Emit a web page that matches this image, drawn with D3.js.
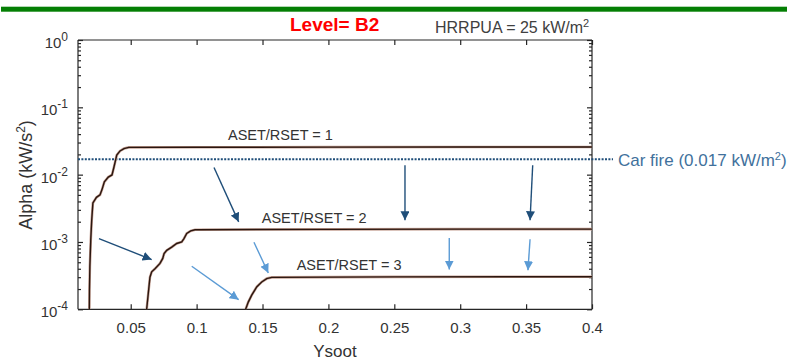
<!DOCTYPE html>
<html>
<head>
<script src="https://cdnjs.cloudflare.com/ajax/libs/d3/7.8.5/d3.min.js"></script>
<style>
  html, body { margin: 0; background: #fff; }
  svg { display: block; font-family: "Liberation Sans", Arial, sans-serif; }
  .axis path, .axis line { stroke: #262626; stroke-width: 1.2; }
  .axis text { fill: #333; font-size: 15px; font-family: "Liberation Sans", Arial, sans-serif; }
</style>
</head>
<body>
<svg id="chart" width="787" height="360"></svg>
<script>
// curves: ASET/RSET = 1, 2, 3
var ysoot1 = [0.0186, 0.0187, 0.0190, 0.0197, 0.0204, 0.0213, 0.0240, 0.0267, 0.0282, 0.0300, 0.0330, 0.0358, 0.0373, 0.0394, 0.0419, 0.0449, 0.0485, 0.10, 0.20, 0.30, 0.40];
var alpha1 = [1.0e-4, 1.9e-4, 4.3e-4, 1.1e-3, 2.1e-3, 3.8e-3, 4.6e-3, 5.0e-3, 6.0e-3, 7.8e-3, 9.2e-3, 9.9e-3, 1.3e-2, 1.95e-2, 2.25e-2, 2.44e-2, 2.54e-2, 2.55e-2, 2.56e-2, 2.57e-2, 2.58e-2];

var ysoot2 = [0.0621, 0.0633, 0.0646, 0.0659, 0.0684, 0.0722, 0.0743, 0.0753, 0.0773, 0.0811, 0.0849, 0.0887, 0.0904, 0.0925, 0.0955, 0.0988, 0.20, 0.30, 0.40];
var alpha2 = [1.0e-4, 1.7e-4, 3.0e-4, 3.6e-4, 4.0e-4, 4.8e-4, 5.7e-4, 6.7e-4, 7.5e-4, 8.4e-4, 9.5e-4, 1.0e-3, 1.12e-3, 1.34e-3, 1.46e-3, 1.52e-3, 1.54e-3, 1.55e-3, 1.55e-3];

var ysoot3 = [0.1372, 0.1392, 0.1418, 0.1456, 0.1494, 0.1532, 0.1570, 0.25, 0.40];
var alpha3 = [1.0e-4, 1.28e-4, 1.62e-4, 2.15e-4, 2.55e-4, 2.86e-4, 2.98e-4, 3.03e-4, 3.05e-4];

var curveLabels = ["ASET/RSET = 1", "ASET/RSET = 2", "ASET/RSET = 3"];
var labelX = [0.1238, 0.1494, 0.1759];

var carFire = 0.017;
var xTicks = [0.05, 0.1, 0.15, 0.2, 0.25, 0.3, 0.35, 0.4];
var xTickLabels = ["0.05", "0.1", "0.15", "0.2", "0.25", "0.3", "0.35", "0.4"];
var yExps = [-4, -3, -2, -1, 0];

// arrows [x0, y0, x1, y1] in data units
var darkArrows = [
  [0.1132, 0.0128, 0.1319, 1.99e-3],
  [0.0259, 1.12e-3, 0.0659, 5.48e-4],
  [0.2581, 0.0138, 0.2581, 2.1e-3],
  [0.3550, 0.0138, 0.3530, 2.1e-3]
];
var lightArrows = [
  [0.0963, 4.36e-4, 0.1319, 1.39e-4],
  [0.1435, 9.9e-4, 0.1544, 3.47e-4],
  [0.2917, 1.15e-3, 0.2917, 3.89e-4],
  [0.3530, 1.10e-3, 0.3514, 3.8e-4]
];

var svg = d3.select("#chart");
var pLeft = 78, pRight = 592, pTop = 40, pBottom = 309.3;

var x = d3.scaleLinear().domain([0.01, 0.4]).range([pLeft, pRight]);
var y = d3.scaleLog().domain([1e-4, 1]).range([pBottom, pTop]);

// green banner line
svg.append("rect").attr("x", 1).attr("y", 6.7).attr("width", 786).attr("height", 5).attr("fill", "#047f04");

// title texts
svg.append("text").attr("x", 290).attr("y", 31)
  .attr("font-size", 19).attr("font-weight", "bold").attr("fill", "#ff0000")
  .text("Level= B2");
var hr = svg.append("text").attr("x", 435).attr("y", 33).attr("font-size", 16).attr("fill", "#404040");
hr.append("tspan").text("HRRPUA = 25 kW/m");
hr.append("tspan").attr("dy", -6).attr("font-size", 11).text("2");

var defs = svg.append("defs");
defs.append("clipPath").attr("id", "plotclip").append("rect")
  .attr("x", pLeft).attr("y", pTop).attr("width", pRight - pLeft).attr("height", pBottom - pTop);

function marker(id, color) {
  defs.append("marker").attr("id", id)
    .attr("viewBox", "0 0 10 10").attr("refX", 10).attr("refY", 5)
    .attr("markerUnits", "userSpaceOnUse").attr("markerWidth", 9).attr("markerHeight", 9)
    .attr("orient", "auto")
    .append("path").attr("d", "M0,0 L10,5 L0,10 z").attr("fill", color);
}
marker("darkhead", "#1f4e79");
marker("lighthead", "#5b9bd5");

// axes
var minorVals = [];
for (var e = -4; e < 0; e++) {
  for (var m = 2; m <= 9; m++) minorVals.push(m * Math.pow(10, e));
}
var majorVals = yExps.map(function(k) { return Math.pow(10, k); });

svg.append("g").attr("class", "axis").attr("transform", "translate(0," + pBottom + ")")
  .call(d3.axisBottom(x).tickValues(xTicks).tickSize(-5).tickPadding(13)
    .tickFormat(function(d, i) { return xTickLabels[i]; }))
  .call(function(g) { g.select(".domain").attr("d", "M" + pLeft + ",0H" + pRight); });

svg.append("g").attr("class", "axis").attr("transform", "translate(0," + pTop + ")")
  .call(d3.axisTop(x).tickValues(xTicks).tickSize(-5).tickFormat(""))
  .call(function(g) { g.select(".domain").attr("d", "M" + pLeft + ",0H" + pRight); });

svg.append("g").attr("class", "axis").attr("transform", "translate(" + pLeft + ",0)")
  .call(d3.axisLeft(y).tickValues(majorVals).tickSize(-5).tickFormat(""))
  .call(function(g) { g.select(".domain").attr("d", "M0," + pTop + "V" + pBottom); });
svg.append("g").attr("class", "axis").attr("transform", "translate(" + pLeft + ",0)")
  .call(d3.axisLeft(y).tickValues(minorVals).tickSize(-3).tickFormat(""))
  .call(function(g) { g.select(".domain").remove(); });

svg.append("g").attr("class", "axis").attr("transform", "translate(" + pRight + ",0)")
  .call(d3.axisRight(y).tickValues(majorVals).tickSize(-5).tickFormat(""))
  .call(function(g) { g.select(".domain").attr("d", "M0," + pTop + "V" + pBottom); });
svg.append("g").attr("class", "axis").attr("transform", "translate(" + pRight + ",0)")
  .call(d3.axisRight(y).tickValues(minorVals).tickSize(-3).tickFormat(""))
  .call(function(g) { g.select(".domain").remove(); });

// y tick labels 10^k
var yl = svg.append("g").selectAll("text").data(yExps).enter().append("text")
  .attr("x", 68).attr("y", function(d) { return y(Math.pow(10, d)) + 8; })
  .attr("text-anchor", "end").attr("font-size", 15).attr("fill", "#333");
yl.append("tspan").text("10");
yl.append("tspan").attr("dy", -7).attr("font-size", 12).text(function(d) { return d === 0 ? "0" : "-" + (-d); });

// axis titles
svg.append("text").attr("x", 335).attr("y", 357).attr("text-anchor", "middle")
  .attr("font-size", 17).attr("fill", "#333").text("Ysoot");
var ya = svg.append("text").attr("transform", "translate(32,175) rotate(-90)")
  .attr("text-anchor", "middle").attr("font-size", 18).attr("fill", "#333");
ya.append("tspan").text("Alpha (kW/s");
ya.append("tspan").attr("dy", -7).attr("font-size", 12).text("2");
ya.append("tspan").attr("dy", 7).text(")");

// car fire reference line
svg.append("line")
  .attr("x1", pLeft).attr("x2", 613)
  .attr("y1", y(carFire)).attr("y2", y(carFire))
  .attr("stroke", "#1f4e79").attr("stroke-width", 2).attr("stroke-dasharray", "2,1.4");
var cf = svg.append("text").attr("x", 618).attr("y", y(carFire) + 7)
  .attr("font-size", 17).attr("fill", "#41719c");
cf.append("tspan").text("Car fire (0.017 kW/m");
cf.append("tspan").attr("dy", -6).attr("font-size", 11).text("2");
cf.append("tspan").attr("dy", 6).text(")");

// curves
var series = [
  ysoot1.map(function(v, i) { return [v, alpha1[i]]; }),
  ysoot2.map(function(v, i) { return [v, alpha2[i]]; }),
  ysoot3.map(function(v, i) { return [v, alpha3[i]]; })
];
var line = d3.line().x(function(d) { return x(d[0]); }).y(function(d) { return y(d[1]); });
var cg = svg.append("g").attr("clip-path", "url(#plotclip)");
cg.selectAll("path.halo").data(series).enter().append("path")
  .attr("d", line).attr("fill", "none").attr("stroke", "#c4a093").attr("stroke-width", 2.6);
cg.selectAll("path.curve").data(series).enter().append("path")
  .attr("d", line).attr("fill", "none").attr("stroke", "#2a160f").attr("stroke-width", 1.4);

// curve labels
svg.append("g").selectAll("text").data(curveLabels).enter().append("text")
  .attr("x", function(d, i) { return x(labelX[i]); })
  .attr("y", function(d, i) { return y(series[i][series[i].length - 1][1]) - 6.5; })
  .attr("font-size", 14.5).attr("fill", "#333").text(function(d) { return d; });

// arrows
function drawArrows(data, color, head) {
  svg.append("g").selectAll("line").data(data).enter().append("line")
    .attr("x1", function(d) { return x(d[0]); }).attr("y1", function(d) { return y(d[1]); })
    .attr("x2", function(d) { return x(d[2]); }).attr("y2", function(d) { return y(d[3]); })
    .attr("stroke", color).attr("stroke-width", 1.4)
    .attr("marker-end", "url(#" + head + ")");
}
drawArrows(darkArrows, "#1f4e79", "darkhead");
drawArrows(lightArrows, "#5b9bd5", "lighthead");
</script>
</body>
</html>
